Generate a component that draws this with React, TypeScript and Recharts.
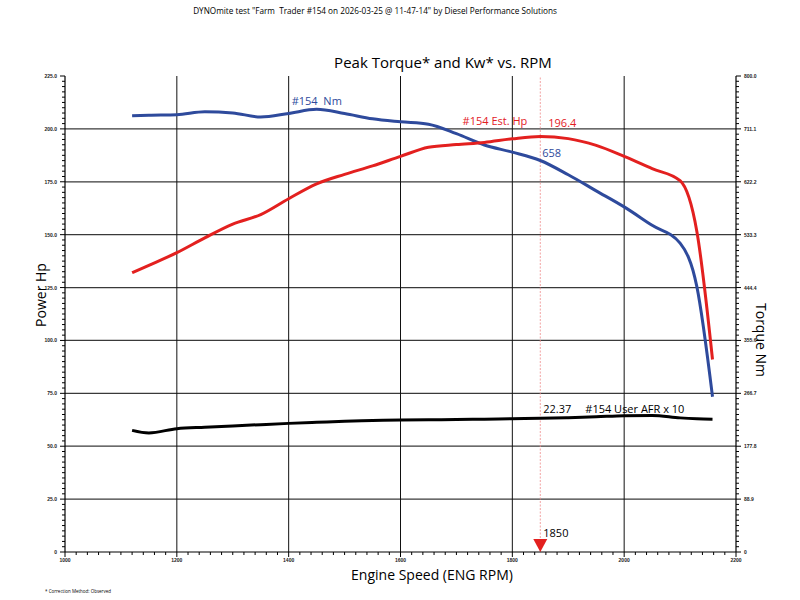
import React from "react";
import { ComposedChart, Line, XAxis, YAxis, ReferenceLine, ReferenceDot } from "recharts";

// engine speed samples (RPM)
const rpm = [1120, 1150, 1200, 1250, 1300, 1350, 1400, 1450, 1500, 1550, 1600, 1650, 1700, 1750, 1800, 1850, 1900, 1950, 2000, 2050, 2100, 2130, 2158];
// #154 Nm (right axis)
const torqueNm = [733, 734, 735, 740, 738, 731, 737, 744, 737, 728, 723, 719, 703, 684, 672, 658, 634, 607, 580, 549, 519, 446, 261];
// #154 Est. Hp (left axis)
const powerHp = [132, 135.5, 141.5, 148.5, 155, 159.5, 167, 174, 178.5, 182.5, 187, 191.3, 192.6, 193.6, 195.3, 196.4, 195.4, 192.2, 187, 181.2, 175.5, 151.5, 91];
// #154 User AFR x 10 (drawn on left axis)
const afr = [57.5, 56.3, 58.3, 59.0, 59.6, 60.2, 60.8, 61.3, 61.8, 62.1, 62.4, 62.5, 62.6, 62.8, 63.0, 63.2, 63.5, 63.9, 64.4, 64.5, 63.4, 63.0, 62.8];

const hpTicks = [0, 25, 50, 75, 100, 125, 150, 175, 200, 225];
const hpLabels = ["0", "25.0", "50.0", "75.0", "100.0", "125.0", "150.0", "175.0", "200.0", "225.0"];
const nmTicks = [0, 88.9, 177.8, 266.7, 355.6, 444.4, 533.3, 622.2, 711.1, 800];
const nmLabels = ["0", "88.9", "177.8", "266.7", "355.6", "444.4", "533.3", "622.2", "711.1", "800.0"];
const rpmTicks = [1000, 1200, 1400, 1600, 1800, 2000, 2200];
const rpmLabels = ["1000", "1200", "1400", "1600", "1800", "2000", "2200"];

const peakRpm = 1850;
const peakHp = 196.4;
const peakNm = 658;
const peakAfrLabel = "22.37";

const rows = rpm.map((r, i) => ({ rpm: r, nm: torqueNm[i], hp: powerHp[i], afr: afr[i] }));

// minor tick positions along each axis
const minor = (max: number, n: number, start = 0) => Array.from({ length: n + 1 }, (_, i) => start + (i * (max - start)) / n);
const hpAll = minor(225, 90);
const nmAll = minor(800, 90);
const rpmAll = minor(2200, 60, 1000);

const near = (list: number[], v: number, eps: number) => list.findIndex((t) => Math.abs(t - v) < eps);

const BLUE = "#2e4a9c";
const RED = "#e3201f";
const tickFont = "'Liberation Sans', Arial, sans-serif";
const labelFont = "'Open Sans', 'Noto Sans', sans-serif";

const LeftTick = (p: any) => {
  const i = near(hpTicks, p.payload.value, 0.1);
  return (
    <g>
      <line x1={p.x - (i >= 0 ? 5 : 3)} x2={p.x} y1={p.y} y2={p.y} stroke="#000" strokeWidth={1} />
      {i >= 0 && (
        <text x={p.x - 8} y={p.y + 2} textAnchor="end" fontSize={5} fontWeight="bold" fontFamily={tickFont} fill="#222">
          {hpLabels[i]}
        </text>
      )}
    </g>
  );
};

const RightTick = (p: any) => {
  const i = near(nmTicks, p.payload.value, 0.5);
  return (
    <g>
      <line x1={p.x} x2={p.x + (i >= 0 ? 5 : 3)} y1={p.y} y2={p.y} stroke="#000" strokeWidth={1} />
      {i >= 0 && (
        <text x={p.x + 8} y={p.y + 2} textAnchor="start" fontSize={5} fontWeight="bold" fontFamily={tickFont} fill="#222">
          {nmLabels[i]}
        </text>
      )}
    </g>
  );
};

const BottomTick = (p: any) => {
  const i = near(rpmTicks, p.payload.value, 1);
  return (
    <g>
      <line x1={p.x} x2={p.x} y1={p.y} y2={p.y + (i >= 0 ? 5 : 3)} stroke="#000" strokeWidth={1} />
      {i >= 0 && (
        <text x={p.x} y={p.y + 10} textAnchor="middle" fontSize={5} fontWeight="bold" fontFamily={tickFont} fill="#222">
          {rpmLabels[i]}
        </text>
      )}
    </g>
  );
};

const tag = (text: string, dx: number, dy: number, color: string, anchor = "start", size = 11) => (p: any) => {
  const vb = p.viewBox;
  return (
    <text x={vb.x + vb.width / 2 + dx} y={vb.y + vb.height / 2 + dy} textAnchor={anchor} fontSize={size}
      fontFamily={labelFont} fill={color} style={{ whiteSpace: "pre" }}>
      {text}
    </text>
  );
};

const Triangle = (p: any) => (
  <polygon points={`${p.cx - 7},${p.cy - 13} ${p.cx + 7},${p.cy - 13} ${p.cx},${p.cy}`} fill={RED} />
);

export default function App() {
  return (
    <div style={{ position: "absolute", left: 0, top: 0, width: 800, height: 600, background: "#fff" }}>
      <ComposedChart width={800} height={600} data={rows} margin={{ top: 76, right: 34, bottom: 28, left: 35 }}>
        <XAxis type="number" dataKey="rpm" domain={[1000, 2200]} ticks={rpmAll} interval={0} tickSize={0} tickMargin={0}
          tick={<BottomTick />} height={20} axisLine={{ stroke: "#000", strokeWidth: 1.2 }} tickLine={false} allowDataOverflow />
        <YAxis yAxisId="hp" orientation="left" domain={[0, 225]} ticks={hpAll} interval={0} tickSize={0} tickMargin={0}
          tick={<LeftTick />} width={30} axisLine={{ stroke: "#000", strokeWidth: 1.2 }} tickLine={false} allowDataOverflow />
        <YAxis yAxisId="nm" orientation="right" domain={[0, 800]} ticks={nmAll} interval={0} tickSize={0} tickMargin={0}
          tick={<RightTick />} width={30} axisLine={{ stroke: "#000", strokeWidth: 1.2 }} tickLine={false} allowDataOverflow />

        {hpTicks.slice(1, -1).map((v) => (
          <ReferenceLine key={`h${v}`} yAxisId="hp" y={v} stroke="#3a3a3a" strokeWidth={1.3} />
        ))}
        {rpmTicks.slice(1, -1).map((v) => (
          <ReferenceLine key={`v${v}`} yAxisId="hp" x={v} stroke="#111" strokeWidth={1} />
        ))}
        <ReferenceLine yAxisId="hp" x={peakRpm} stroke="#f08a8a" strokeWidth={0.8} strokeDasharray="2 1.5" />

        <Line yAxisId="hp" dataKey="afr" type="monotone" stroke="#000" strokeWidth={3} dot={false} isAnimationActive={false} />
        <Line yAxisId="nm" dataKey="nm" type="monotone" stroke={BLUE} strokeWidth={3} dot={false} isAnimationActive={false} />
        <Line yAxisId="hp" dataKey="hp" type="monotone" stroke={RED} strokeWidth={3} dot={false} isAnimationActive={false} />

        <ReferenceDot yAxisId="hp" x={peakRpm} y={peakHp} r={1} fill="none" stroke="none"
          label={tag("196.4", 8, -10, RED)} />
        <ReferenceDot yAxisId="hp" x={peakRpm} y={peakHp} r={1} fill="none" stroke="none"
          label={tag("#154 Est. Hp", -13, -12, RED, "end")} />
        <ReferenceDot yAxisId="nm" x={peakRpm} y={peakNm} r={1} fill="none" stroke="none"
          label={tag(String(peakNm), 2, -3, BLUE)} />
        <ReferenceDot yAxisId="nm" x={1400} y={torqueNm[6]} r={1} fill="none" stroke="none"
          label={tag("#154  Nm", 3, -8, BLUE)} />
        <ReferenceDot yAxisId="hp" x={peakRpm} y={afr[15]} r={1} fill="none" stroke="none"
          label={tag(peakAfrLabel, 3, -5, "#000")} />
        <ReferenceDot yAxisId="hp" x={peakRpm} y={afr[15]} r={1} fill="none" stroke="none"
          label={tag("#154 User AFR x 10", 45, -5, "#000")} />
        <ReferenceDot yAxisId="hp" x={peakRpm} y={0} r={1} shape={<Triangle />}
          label={tag(String(peakRpm), 3, -15, "#000")} />
      </ComposedChart>

      <svg width={800} height={600} style={{ position: "absolute", left: 0, top: 0, pointerEvents: "none" }}>
        <text x={375} y={14} textAnchor="middle" fontSize={8.2} fontFamily={labelFont} fill="#000" style={{ whiteSpace: "pre" }}>
          DYNOmite test "Farm  Trader #154 on 2026-03-25 @ 11-47-14" by Diesel Performance Solutions
        </text>
        <text x={443} y={68} textAnchor="middle" fontSize={15} fontFamily={labelFont} fill="#000">
          Peak Torque* and Kw* vs. RPM
        </text>
        <text x={0} y={0} transform="translate(46,295) rotate(-90)" textAnchor="middle" fontSize={14} fontFamily={labelFont} fill="#000">
          Power Hp
        </text>
        <text x={0} y={0} transform="translate(756,340) rotate(90)" textAnchor="middle" fontSize={14} fontFamily={labelFont} fill="#000">
          Torque Nm
        </text>
        <text x={432} y={580} textAnchor="middle" fontSize={14} fontFamily={labelFont} fill="#000">
          Engine Speed (ENG RPM)
        </text>
        <text x={45} y={593} textAnchor="start" fontSize={4.5} fontFamily={labelFont} fill="#000">
          * Correction Method: Observed
        </text>
      </svg>
    </div>
  );
}
